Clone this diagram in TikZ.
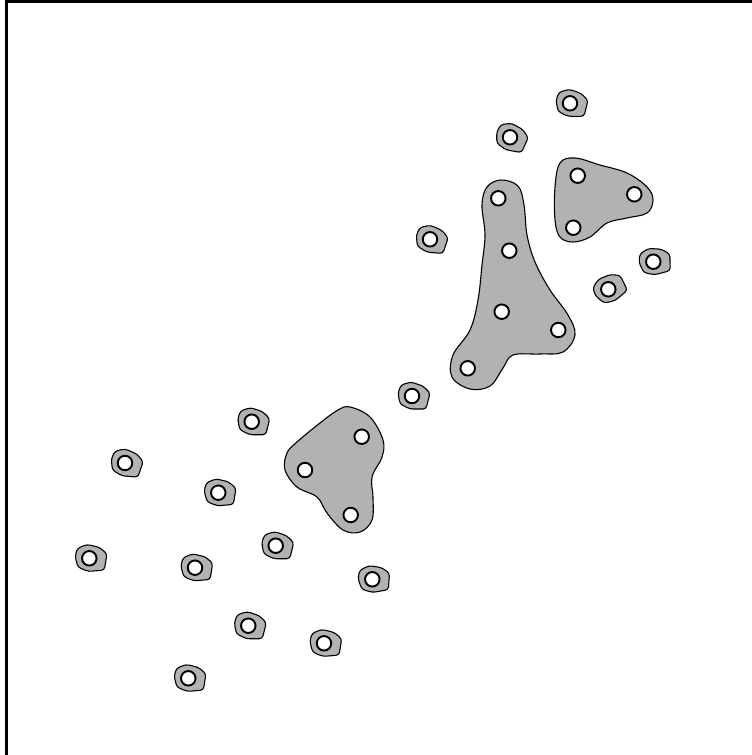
\documentclass[tikz,border=0pt]{standalone}
\usepackage{tikz}
\usetikzlibrary{positioning}

\tikzset{
	blob/.style={fill=gray!60, draw=black, line width=1.1pt},
	pt/.style={draw, circle, fill=white, line width=1.9pt, minimum size=14.5pt, inner sep=0pt},
}

% a lone point with its small hull
\newcommand{\lonept}[4]{
	\begin{scope}[shift={(#2,#3)}, rotate=#4]
		\draw[blob, rounded corners=3pt] (-14,-3) -- (-11,-11) -- (-1,-14) -- (11,-10) -- (18,-3) -- (14,13) -- (-2,13) -- (-12,8) -- cycle;
	\end{scope}
	\node[pt] (#1) at (#2,#3) {};
}

\begin{document}
\begin{tikzpicture}[x=1pt, y=-1pt]
		\useasboundingbox (0,0) rectangle (752,755);
		\draw[line width=2.4pt] (6.5,760) -- (6.5,1.5) -- (760,1.5);

		% big clusters
		\draw[blob] plot[smooth cycle, tension=0.6] coordinates {
			(501,180) (518,186) (524,205) (527,235) (535,262) (550,290) (568,315) (575,335)
			(563,352) (540,354) (513,355) (503,368) (490,386) (470,389) (452,377) (453,355)
			(470,330) (478,300) (482,265) (485,235) (482,205) (487,187)};
		\draw[blob] plot[smooth cycle, tension=0.6] coordinates {
			(560,163) (575,158) (600,165) (627,173) (647,187) (653,200) (647,213) (627,218)
			(607,223) (590,237) (573,242) (560,237) (555,220) (555,187)};
		\draw[blob] plot[smooth cycle, tension=0.6] coordinates {
			(350,407) (370,417) (383,440) (382,457) (372,477) (373,497) (372,520) (360,532)
			(343,530) (327,513) (317,497) (297,487) (285,470) (287,453) (297,442) (320,423)
			(338,410)};

		\node[pt] (b1) at (498.3,198.3) {};
		\node[pt] (b2) at (509.3,250.7) {};
		\node[pt] (b3) at (501.7,311.7) {};
		\node[pt] (b4) at (558.3,330) {};
		\node[pt] (b5) at (467.7,368.3) {};

		\node[pt] (a1) at (577.7,175.7) {};
		\node[pt] (a2) at (634.3,194.3) {};
		\node[pt] (a3) at (573.3,227.7) {};

		\node[pt] (c1) at (361.7,436.7) {};
		\node[pt] (c2) at (305,470) {};
		\node[pt] (c3) at (350.7,515) {};

		% lone points
		\foreach \n/\x/\y/\r in {s1/570/103.3/0, s2/510/137.3/-10, s3/430/239.3/-5, s4/653.3/261.7/15,
			s5/608.3/289.3/40, s6/412/396/0, s7/251.7/421.7/0, s8/125/463/-5, s9/218.3/492.7/5,
			s10/275.7/545.7/0, s11/89.3/558.3/5, s12/195/567.7/5, s13/372.3/579.3/10,
			s14/248.3/625.7/0, s15/324/643.3/5, s16/188.3/678.3/5}
			{\lonept{\n}{\x}{\y}{\r}}
	\end{tikzpicture}
\end{document}
